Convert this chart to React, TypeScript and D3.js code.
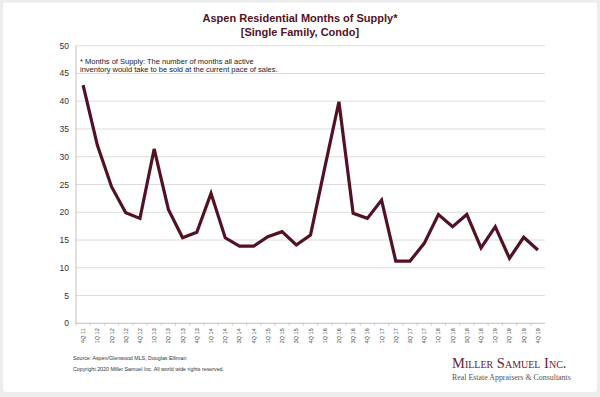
import React from "react";
import * as d3 from "d3";

const quarters = [
  "4Q 11", "1Q 12", "2Q 12", "3Q 12", "4Q 12", "1Q 13", "2Q 13", "3Q 13", "4Q 13",
  "1Q 14", "2Q 14", "3Q 14", "4Q 14", "1Q 15", "2Q 15", "3Q 15", "4Q 15",
  "1Q 16", "2Q 16", "3Q 16", "4Q 16", "1Q 17", "2Q 17", "3Q 17", "4Q 17",
  "1Q 18", "2Q 18", "3Q 18", "4Q 18", "1Q 19", "2Q 19", "3Q 19", "4Q 19",
];

const monthsOfSupply = [
  42.9, 32.1, 24.6, 19.9, 18.9, 31.4, 20.5, 15.4, 16.4,
  23.4, 15.4, 13.9, 13.9, 15.6, 16.5, 14.1, 15.9,
  28.0, 39.9, 19.8, 18.9, 22.2, 11.2, 11.2, 14.4,
  19.6, 17.4, 19.6, 13.6, 17.4, 11.7, 15.5, 13.2,
];

const yTicks = [0, 5, 10, 15, 20, 25, 30, 35, 40, 45, 50];

const titleLines = ["Aspen Residential Months of Supply*", "[Single Family, Condo]"];
const noteLines = [
  "* Months of Supply: The number of months all active",
  "inventory would take to be sold at the current pace of sales.",
];
const footerLines = [
  "Source: Aspen/Glenwood MLS, Douglas Elliman",
  "Copyright 2020 Miller Samuel Inc.  All world wide rights reserved.",
];

const W = 600;
const H = 397;
const maroon = "#521222";

export default function App() {
  // plot area
  const left = 76;
  const right = 545;
  const top = 45.7;
  const bottom = 323.3;

  const x = d3.scaleBand().domain(quarters).range([left, right]).padding(0);
  const y = d3.scaleLinear().domain([0, 50]).range([bottom, top]);

  const line = d3
    .line<number>()
    .x((_, i) => (x(quarters[i]) as number) + x.bandwidth() / 2)
    .y((d) => y(d));

  const font = "'Liberation Sans', Arial, sans-serif";

  return (
    <svg
      width={W}
      height={H}
      style={{ position: "absolute", left: 0, top: 0 }}
      fontFamily={font}
    >
      {/* frame */}
      <rect x={0} y={0} width={W} height={H} fill="#ededed" />
      <rect x={3} y={2.5} width={594} height={389.5} rx={3} fill="#ffffff" />

      {/* title */}
      {titleLines.map((t, i) => (
        <text
          key={t}
          x={300}
          y={22 + i * 13.5}
          textAnchor="middle"
          fontSize={11}
          fontWeight="bold"
          fill={maroon}
        >
          {t}
        </text>
      ))}

      {/* gridlines */}
      {yTicks.map((t) => (
        <line
          key={t}
          x1={left}
          x2={right}
          y1={y(t)}
          y2={y(t)}
          stroke={t === 0 ? "#b0b0b0" : "#d4d4d4"}
          strokeWidth={0.8}
        />
      ))}
      <line x1={left} x2={left} y1={top} y2={bottom} stroke="#b0b0b0" strokeWidth={0.8} />

      {/* y labels */}
      {yTicks.map((t) => (
        <text
          key={"l" + t}
          x={69}
          y={y(t) + 3}
          textAnchor="end"
          fontSize={8.5}
          fill="#333"
        >
          {t}
        </text>
      ))}

      {/* x ticks */}
      {quarters.map((q) => (
        <line
          key={"t" + q}
          x1={x(q) as number}
          x2={x(q) as number}
          y1={bottom}
          y2={bottom + 2.5}
          stroke="#b0b0b0"
          strokeWidth={0.6}
        />
      ))}

      {/* x labels */}
      {quarters.map((q) => {
        const cx = (x(q) as number) + x.bandwidth() / 2;
        return (
          <text
            key={"x" + q}
            transform={`translate(${cx + 2},${bottom + 5}) rotate(-90)`}
            textAnchor="end"
            fontSize={5.5}
            fill="#444"
          >
            {q}
          </text>
        );
      })}

      {/* note */}
      {noteLines.map((t, i) => (
        <text key={t} x={80} y={63.5 + i * 8.3} fontSize={7.5} fill="#222">
          {t}
        </text>
      ))}

      {/* series */}
      <path
        d={line(monthsOfSupply) as string}
        fill="none"
        stroke={maroon}
        strokeWidth={3.2}
        strokeLinejoin="miter"
      />

      {/* footer */}
      {footerLines.map((t, i) => (
        <text key={t} x={73} y={360 + i * 10.5} fontSize={5.3} fill="#333">
          {t}
        </text>
      ))}

      {/* logo */}
      <text
        x={452}
        y={368}
        fontFamily="'Liberation Serif', 'DejaVu Serif', serif"
        fontSize={14.5}
        fill="#6a2030"
        style={{ fontVariant: "small-caps" }}
      >
        Miller Samuel Inc.
      </text>
      <text
        x={452}
        y={380}
        fontFamily="'Liberation Serif', 'DejaVu Serif', serif"
        fontSize={7.9}
        fill="#555"
      >
        Real Estate Appraisers &amp; Consultants
      </text>
    </svg>
  );
}
